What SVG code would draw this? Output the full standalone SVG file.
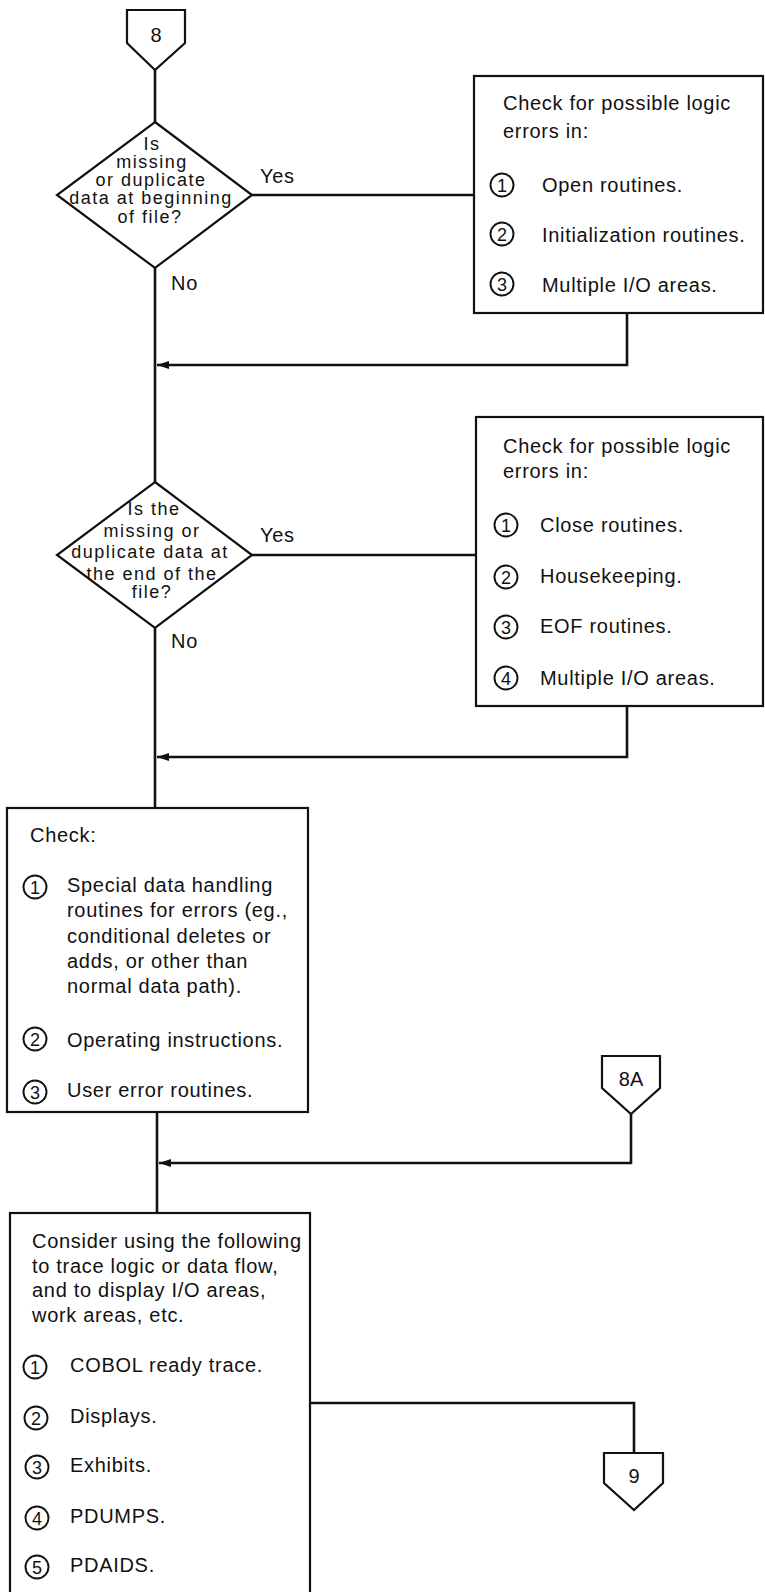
<svg xmlns="http://www.w3.org/2000/svg" width="765" height="1592" viewBox="0 0 765 1592">
<defs>
<style>
.ln{fill:none;stroke:#111;stroke-width:2.6;stroke-linejoin:miter}
.bx{fill:#fff;stroke:#111;stroke-width:2.2}
.t{font-family:"Liberation Sans",Arial,sans-serif;font-size:20px;letter-spacing:0.7px;fill:#111}
.d{font-family:"Liberation Sans",Arial,sans-serif;font-size:18px;letter-spacing:1.5px;fill:#111;text-anchor:middle}
.n{font-family:"Liberation Sans",Arial,sans-serif;font-size:18px;fill:#111;text-anchor:middle}
.c{font-family:"Liberation Sans",Arial,sans-serif;font-size:20px;fill:#111;text-anchor:middle}
.ci{fill:none;stroke:#111;stroke-width:1.9}
</style>
<marker id="arr" viewBox="0 0 12 8" refX="12" refY="4" markerWidth="12" markerHeight="8" markerUnits="userSpaceOnUse" orient="auto">
<path d="M0,0 L12,4 L0,8 z" fill="#111"/>
</marker>
</defs>
<rect width="765" height="1592" fill="#fff"/>

<g id="connectors">
<path class="ln" d="M155,70 V122"/>
<path class="ln" d="M155,268 V482"/>
<path class="ln" d="M155,628 V808"/>
<path class="ln" d="M157,1112 V1213"/>
<path class="ln" d="M252,195 H474"/>
<path class="ln" d="M627,313 V365 H157" marker-end="url(#arr)"/>
<path class="ln" d="M252,555 H476"/>
<path class="ln" d="M627,706 V757 H157" marker-end="url(#arr)"/>
<path class="ln" d="M631,1114 V1163 H159" marker-end="url(#arr)"/>
<path class="ln" d="M310,1403 H634 V1453"/>
<text class="t" x="260" y="183" font-size="19">Yes</text>
<text class="t" x="171" y="290" font-size="19">No</text>
<text class="t" x="260" y="542" font-size="19">Yes</text>
<text class="t" x="171" y="648" font-size="19">No</text>
</g>

<g id="conn8">
<path class="bx" d="M127,10 H185 V43 L155,70 L127,43 Z"/>
<text class="c" x="156" y="42">8</text>
</g>

<g id="decision1">
<path class="bx" d="M155,122 L252,195 L155,268 L57,195 Z"/>
<text class="d" x="152" y="150">Is</text>
<text class="d" x="152" y="168">missing</text>
<text class="d" x="151" y="186">or duplicate</text>
<text class="d" x="151" y="204">data at beginning</text>
<text class="d" x="150" y="223">of file?</text>
</g>

<g id="box1">
<rect class="bx" x="474" y="76" width="289" height="237"/>
<text class="t" x="503" y="110">Check for possible logic</text>
<text class="t" x="503" y="138">errors in:</text>
<circle class="ci" cx="502" cy="185" r="11.5"/>
<text class="n" x="502" y="191.5">1</text>
<text class="t" x="542" y="192">Open routines.</text>
<circle class="ci" cx="502" cy="234" r="11.5"/>
<text class="n" x="502" y="240.5">2</text>
<text class="t" x="542" y="242">Initialization routines.</text>
<circle class="ci" cx="502" cy="284" r="11.5"/>
<text class="n" x="502" y="290.5">3</text>
<text class="t" x="542" y="292">Multiple I/O areas.</text>
</g>

<g id="decision2">
<path class="bx" d="M155,482 L252,555 L155,628 L57,555 Z"/>
<text class="d" x="154" y="515">Is the</text>
<text class="d" x="152" y="537">missing or</text>
<text class="d" x="150" y="558">duplicate data at</text>
<text class="d" x="152" y="580">the end of the</text>
<text class="d" x="152" y="598">file?</text>
</g>

<g id="box2">
<rect class="bx" x="476" y="417" width="287" height="289"/>
<text class="t" x="503" y="453">Check for possible logic</text>
<text class="t" x="503" y="478">errors in:</text>
<circle class="ci" cx="506" cy="525" r="11.5"/>
<text class="n" x="506" y="531.5">1</text>
<text class="t" x="540" y="532">Close routines.</text>
<circle class="ci" cx="506" cy="577" r="11.5"/>
<text class="n" x="506" y="583.5">2</text>
<text class="t" x="540" y="583">Housekeeping.</text>
<circle class="ci" cx="506" cy="627" r="11.5"/>
<text class="n" x="506" y="633.5">3</text>
<text class="t" x="540" y="633">EOF routines.</text>
<circle class="ci" cx="506" cy="678" r="11.5"/>
<text class="n" x="506" y="684.5">4</text>
<text class="t" x="540" y="685">Multiple I/O areas.</text>
</g>

<g id="box3">
<rect class="bx" x="7" y="808" width="301" height="304"/>
<text class="t" x="30" y="842">Check:</text>
<circle class="ci" cx="35" cy="887" r="11.5"/>
<text class="n" x="35" y="893.5">1</text>
<text class="t" x="67" y="892">Special data handling</text>
<text class="t" x="67" y="917">routines for errors (eg.,</text>
<text class="t" x="67" y="943">conditional deletes or</text>
<text class="t" x="67" y="968">adds, or other than</text>
<text class="t" x="67" y="993">normal data path).</text>
<circle class="ci" cx="35" cy="1039" r="11.5"/>
<text class="n" x="35" y="1045.5">2</text>
<text class="t" x="67" y="1047">Operating instructions.</text>
<circle class="ci" cx="35" cy="1092" r="11.5"/>
<text class="n" x="35" y="1098.5">3</text>
<text class="t" x="67" y="1097">User error routines.</text>
</g>

<g id="conn8A">
<path class="bx" d="M602,1056 H660 V1088 L631,1114 L602,1088 Z"/>
<text class="c" x="631" y="1086">8A</text>
</g>

<g id="box4">
<rect class="bx" x="10" y="1213" width="300" height="400"/>
<text class="t" x="32" y="1248">Consider using the following</text>
<text class="t" x="32" y="1273">to trace logic or data flow,</text>
<text class="t" x="32" y="1297">and to display I/O areas,</text>
<text class="t" x="32" y="1322">work areas, etc.</text>
<circle class="ci" cx="35" cy="1367" r="11.5"/>
<text class="n" x="35" y="1373.5">1</text>
<text class="t" x="70" y="1372">COBOL ready trace.</text>
<circle class="ci" cx="36" cy="1418" r="11.5"/>
<text class="n" x="36" y="1424.5">2</text>
<text class="t" x="70" y="1423">Displays.</text>
<circle class="ci" cx="37" cy="1467" r="11.5"/>
<text class="n" x="37" y="1473.5">3</text>
<text class="t" x="70" y="1472">Exhibits.</text>
<circle class="ci" cx="37" cy="1518" r="11.5"/>
<text class="n" x="37" y="1524.5">4</text>
<text class="t" x="70" y="1523">PDUMPS.</text>
<circle class="ci" cx="37" cy="1567" r="11.5"/>
<text class="n" x="37" y="1573.5">5</text>
<text class="t" x="70" y="1572">PDAIDS.</text>
</g>

<g id="conn9">
<path class="bx" d="M604,1453 H663 V1483 L634,1510 L604,1483 Z"/>
<text class="c" x="634" y="1483">9</text>
</g>
</svg>
